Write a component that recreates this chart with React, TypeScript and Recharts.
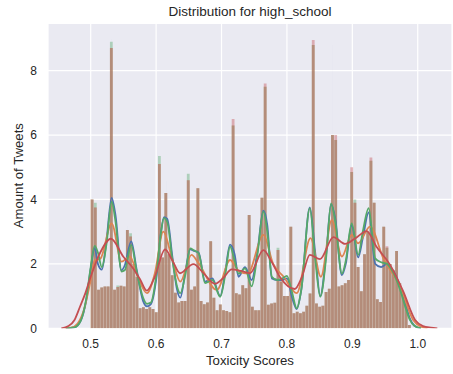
import { ComposedChart, Bar, Line, XAxis, YAxis, CartesianGrid } from 'recharts';

// histogram bins (same edges for every series)
const binStart = 0.5;
const binWidth = 0.0049;

// heights every series shares; per-series tips below
const histShared = [
  4.0, 3.75, 1.2, 1.27, 1.3, 1.3, 8.7, 1.2, 1.28, 1.32,
  1.3, 3.05, 2.85, 2.0, 1.6, 0.62, 0.65, 0.6, 0.65, 0.6,
  0.5, 5.1, 2.2, 4.2, 2.3, 1.65, 1.1, 0.8, 0.85, 0.85,
  4.6, 1.2, 1.3, 4.35, 0.85, 0.75, 0.8, 2.7, 0.95, 0.56,
  0.74, 0.56, 0.54, 0.5, 6.3, 1.09, 1.05, 1.34, 1.24, 3.52,
  0.67, 0.56, 0.56, 4.05, 7.5, 0.73, 0.77, 0.79, 2.43, 1.45,
  1.0, 1.0, 3.15, 0.47, 0.51, 0.47, 0.51, 0.7, 1.08, 8.8,
  0.77, 0.67, 0.7, 1.13, 1.23, 6.0, 5.85, 1.3, 1.34, 1.4,
  1.5, 4.85, 3.9, 1.9, 1.15, 2.3, 3.0, 5.2, 3.9, 0.9,
  0.82, 3.15, 2.5, 2.0, 1.8, 2.4, 1.4, 1.05, 0.85, 0.1,
];

const tipsBlue: Record<number, number> = { 0: 4.1, 6: 9.0, 11: 3.2, 23: 4.6, 75: 8.8, 91: 3.25, 97: 1.35 };
const tipsOrange: Record<number, number> = {};
const tipsGreen: Record<number, number> = { 1: 3.9, 6: 8.9, 8: 1.33, 12: 2.95, 21: 5.35, 30: 4.8, 58: 2.5, 82: 4.0 };
const tipsRed: Record<number, number> = { 44: 6.5, 54: 7.6, 69: 8.95, 76: 6.0, 81: 5.0, 87: 5.3, 92: 2.55 };

// kde curves [x, density]
const kdeBlue = [
  [0.462, 0], [0.475, 0.03], [0.485, 0.25], [0.493, 0.85], [0.5, 1.85], [0.506, 2.5], [0.511, 2.0],
  [0.517, 1.82], [0.524, 2.7], [0.532, 4.05], [0.538, 3.5], [0.547, 1.8], [0.552, 1.95], [0.562, 2.7],
  [0.57, 1.85], [0.58, 0.85], [0.586, 0.68], [0.592, 0.75], [0.6, 1.5], [0.607, 2.9], [0.612, 3.45],
  [0.617, 3.4], [0.625, 2.2], [0.632, 1.2], [0.637, 0.95], [0.645, 1.8], [0.652, 2.45], [0.658, 2.4],
  [0.665, 2.35], [0.675, 1.45], [0.686, 1.55], [0.698, 1.0], [0.706, 1.8], [0.713, 2.6], [0.72, 2.3],
  [0.726, 1.6], [0.736, 1.9], [0.746, 1.5], [0.755, 2.4], [0.764, 3.65], [0.77, 3.2], [0.777, 1.55],
  [0.785, 1.5], [0.793, 1.5], [0.8, 1.55], [0.808, 0.95], [0.815, 0.6], [0.822, 1.2], [0.835, 3.75],
  [0.843, 2.4], [0.851, 1.0], [0.86, 2.3], [0.8675, 3.85], [0.874, 3.4], [0.884, 1.65], [0.89, 2.0],
  [0.899, 3.2], [0.909, 2.2], [0.916, 2.8], [0.925, 3.6], [0.935, 2.0], [0.944, 1.9], [0.953, 2.0],
  [0.962, 1.8], [0.973, 1.3], [0.982, 0.7], [0.988, 0.3], [0.995, 0.08], [1.005, 0],
];
const kdeOrange = [
  [0.46, 0], [0.47, 0.02], [0.48, 0.15], [0.49, 0.6], [0.5, 1.5], [0.506, 2.1], [0.515, 2.17],
  [0.532, 3.26], [0.547, 2.07], [0.56, 2.23], [0.572, 1.6], [0.586, 1.09], [0.598, 1.7], [0.611, 3.0],
  [0.624, 2.2], [0.637, 1.45], [0.654, 2.28], [0.664, 2.05], [0.693, 1.19], [0.713, 2.12], [0.728, 1.75],
  [0.74, 1.7], [0.764, 2.9], [0.779, 2.0], [0.795, 1.6], [0.815, 1.09], [0.836, 2.8], [0.852, 1.6],
  [0.8685, 3.36], [0.884, 2.23], [0.899, 2.9], [0.909, 2.64], [0.927, 3.16], [0.9475, 2.17],
  [0.973, 1.3], [0.993, 0.26], [1.005, 0.05], [1.015, 0],
];
const kdeGreen = [
  [0.462, 0], [0.475, 0.03], [0.485, 0.25], [0.493, 0.9], [0.5, 1.9], [0.506, 2.56], [0.511, 2.35],
  [0.517, 1.9], [0.524, 2.6], [0.532, 3.93], [0.538, 3.3], [0.547, 1.76], [0.552, 1.8], [0.562, 2.59],
  [0.57, 1.8], [0.58, 0.95], [0.586, 0.76], [0.592, 0.8], [0.6, 1.6], [0.607, 2.9], [0.612, 3.42],
  [0.617, 3.3], [0.625, 2.1], [0.632, 1.3], [0.637, 1.09], [0.645, 1.7], [0.652, 2.48], [0.658, 2.42],
  [0.665, 2.33], [0.675, 1.4], [0.686, 1.5], [0.698, 0.98], [0.706, 1.7], [0.713, 2.54], [0.72, 2.1],
  [0.726, 1.7], [0.736, 1.86], [0.746, 1.3], [0.755, 2.3], [0.764, 3.62], [0.77, 3.0], [0.777, 1.6],
  [0.785, 1.5], [0.793, 1.55], [0.8, 1.63], [0.808, 1.1], [0.815, 0.62], [0.822, 1.2], [0.835, 3.73],
  [0.843, 2.2], [0.851, 0.98], [0.86, 2.2], [0.8675, 3.88], [0.874, 3.3], [0.884, 1.7], [0.89, 2.1],
  [0.899, 3.26], [0.909, 2.28], [0.916, 3.0], [0.925, 3.73], [0.935, 2.17], [0.944, 2.05], [0.953, 2.0],
  [0.962, 1.75], [0.973, 1.2], [0.982, 0.6], [0.988, 0.26], [0.995, 0.08], [1.005, 0],
];
const kdeRed = [
  [0.455, 0], [0.466, 0.07], [0.475, 0.25], [0.4836, 0.67], [0.492, 1.1], [0.5, 1.6], [0.514, 2.33],
  [0.531, 2.78], [0.55, 2.22], [0.565, 1.86], [0.576, 1.5], [0.5856, 1.17], [0.598, 1.6], [0.6136, 2.45],
  [0.625, 2.1], [0.6365, 1.71], [0.657, 1.99], [0.673, 1.7], [0.69, 1.38], [0.702, 1.55], [0.7156, 1.83],
  [0.73, 1.78], [0.7435, 1.71], [0.764, 2.43], [0.777, 2.05], [0.789, 1.6], [0.812, 1.22], [0.823, 1.6],
  [0.835, 2.28], [0.8506, 2.15], [0.871, 2.83], [0.889, 2.62], [0.905, 2.8], [0.922, 3.02], [0.937, 2.53],
  [0.9577, 1.97], [0.978, 1.14], [0.996, 0.26], [1.008, 0.07], [1.02, 0.02], [1.03, 0],
];

const xTicks = [0.5, 0.6, 0.7, 0.8, 0.9, 1.0];
const yTicks = [0, 2, 4, 6, 8];
const xDomain: [number, number] = [0.4347, 1.0524];
const yDomain: [number, number] = [0, 9.47];

const COLORS = { b: '#4C72B0', o: '#DD8452', g: '#55A868', r: '#C44E52' };
const INK = '#262626';
const FONT = '"Liberation Sans", Arial, sans-serif';

const withTips = (tips: Record<number, number>) => histShared.map((v, i) => (tips[i] !== undefined ? tips[i] : v));
const histBlue = withTips(tipsBlue);
const histOrange = withTips(tipsOrange);
const histGreen = withTips(tipsGreen);
const histRed = withTips(tipsRed);

const rows = histShared.map((_, i) => ({
  x: binStart + binWidth * (i + 0.5),
  b: histBlue[i],
  o: histOrange[i],
  g: histGreen[i],
  r: histRed[i],
}));

const toPts = (arr: number[][]) => arr.map(([x, y]) => ({ x, y }));

export default function App() {
  const axisIds = ['b', 'o', 'g', 'r'] as const;
  const kdes = { b: kdeBlue, o: kdeOrange, g: kdeGreen, r: kdeRed };

  return (
    <div style={{ position: 'relative', width: 453, height: 374, fontFamily: FONT, background: '#fff' }}>
      <style>{'body{margin:0}'}</style>
      <ComposedChart width={453} height={374} data={rows} margin={{ top: 23.3, right: 1, bottom: 0, left: 0 }}>
        <XAxis
          xAxisId="b"
          type="number"
          dataKey="x"
          domain={xDomain}
          allowDataOverflow
          ticks={xTicks}
          tickFormatter={(v) => v.toFixed(1)}
          axisLine={false}
          tickLine={false}
          tickMargin={5.5}
          height={45.7}
          tick={{ fill: INK, fontSize: 12, fontFamily: FONT }}
        />
        {axisIds.slice(1).map((id) => (
          <XAxis key={id} xAxisId={id} type="number" dataKey="x" domain={xDomain} allowDataOverflow hide />
        ))}
        <YAxis
          type="number"
          domain={yDomain}
          ticks={yTicks}
          allowDataOverflow
          axisLine={false}
          tickLine={false}
          tickMargin={5}
          width={48}
          tick={{ fill: INK, fontSize: 12, fontFamily: FONT }}
        />
        <CartesianGrid xAxisId="b" fill="#EAEAF2" stroke="#ffffff" strokeWidth={1.2} />
        {axisIds.map((id) => (
          <Bar
            key={'bar' + id}
            xAxisId={id}
            dataKey={id}
            fill={COLORS[id]}
            fillOpacity={0.4}
            barSize={2.8}
            isAnimationActive={false}
          />
        ))}
        {axisIds.map((id) => (
          <Line
            key={'kde' + id}
            xAxisId="b"
            data={toPts(kdes[id])}
            dataKey="y"
            type="monotone"
            stroke={COLORS[id]}
            strokeWidth={1.8}
            dot={false}
            activeDot={false}
            isAnimationActive={false}
          />
        ))}
      </ComposedChart>
      <svg width={453} height={374} style={{ position: 'absolute', left: 0, top: 0, pointerEvents: 'none' }}>
        <text x={250} y={15.7} textAnchor="middle" fontSize={13.5} fill={INK} fontFamily={FONT}>
          Distribution for high_school
        </text>
        <text x={250} y={365} textAnchor="middle" fontSize={13.2} fill={INK} fontFamily={FONT}>
          Toxicity Scores
        </text>
        <text
          x={0}
          y={0}
          transform="translate(22.5,175.7) rotate(-90)"
          textAnchor="middle"
          fontSize={13.2}
          fill={INK}
          fontFamily={FONT}
        >
          Amount of Tweets
        </text>
      </svg>
    </div>
  );
}
